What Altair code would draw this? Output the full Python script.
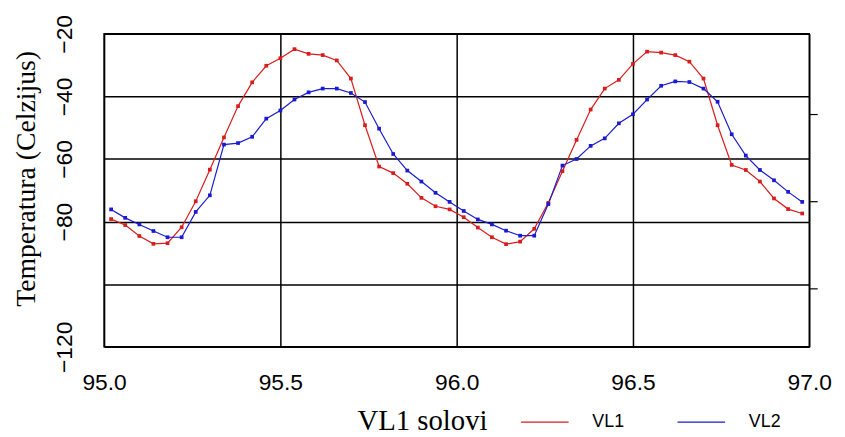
import altair as alt
import pandas as pd

x_vals = [95.02, 95.06, 95.10, 95.14, 95.18, 95.22, 95.26, 95.30, 95.34, 95.38,
          95.42, 95.46, 95.50, 95.54, 95.58, 95.62, 95.66, 95.70, 95.74, 95.78,
          95.82, 95.86, 95.90, 95.94, 95.98, 96.02, 96.06, 96.10, 96.14, 96.18,
          96.22, 96.26, 96.30, 96.34, 96.38, 96.42, 96.46, 96.50, 96.54, 96.58,
          96.62, 96.66, 96.70, 96.74, 96.78, 96.82, 96.86, 96.90, 96.94, 96.98]

vl1 = [-79.2, -81.1, -84.6, -87.1, -86.9, -81.8, -73.5, -63.4, -53.1, -43.1,
       -35.5, -30.2, -27.8, -24.9, -26.4, -26.8, -28.5, -34.3, -49.2, -62.4,
       -64.5, -67.9, -72.4, -75.1, -76.1, -78.6, -81.9, -85.0, -87.2, -86.4,
       -82.3, -74.0, -63.9, -53.9, -44.2, -37.5, -34.7, -29.6, -25.7, -26.0,
       -26.8, -28.9, -34.3, -49.2, -61.9, -63.5, -67.2, -72.6, -76.0, -77.4]

vl2 = [-76.1, -78.8, -80.9, -83.0, -85.0, -85.0, -76.9, -71.6, -55.4, -54.9,
       -52.9, -47.1, -44.5, -41.0, -38.7, -37.5, -37.5, -38.9, -41.8, -50.3,
       -58.4, -63.7, -67.2, -70.8, -73.7, -76.6, -79.3, -80.9, -82.9, -84.5,
       -84.5, -74.4, -62.1, -60.0, -55.8, -53.4, -48.6, -45.7, -41.0, -36.6,
       -35.2, -35.4, -37.5, -41.7, -52.1, -58.9, -63.5, -66.8, -70.5, -73.7]

series = ["VL1", "VL2"]
colors = ["#d81c1c", "#1a1ad0"]
y_ticks = [-120, -100, -80, -60, -40, -20]
x_ticks = [95.0, 95.5, 96.0, 96.5, 97.0]
right_ticks = [-45.6, -73.6, -101.2]

df = pd.DataFrame({
    "x": x_vals * 2,
    "temp": vl1 + vl2,
    "serija": ["VL1"] * len(vl1) + ["VL2"] * len(vl2),
})

xenc = alt.X("x:Q", scale=alt.Scale(domain=[95, 97], nice=False, zero=False),
             axis=alt.Axis(values=x_ticks, format=".1f", title="VL1 solovi", grid=True,
                           gridColor="black", gridWidth=1.5, gridOpacity=1,
                           ticks=False, domain=False, labelPadding=25,
                           labelFont="Liberation Sans", labelFontSize=23,
                           labelColor="black", labelFlush=False,
                           titleFont="Liberation Serif", titleFontSize=29,
                           titleFontWeight="normal", titleColor="black",
                           titleX=321, titleY=74, titleAlign="center",
                           titleBaseline="middle"))
yenc = alt.Y("temp:Q", scale=alt.Scale(domain=[-120, -20], nice=False, zero=False),
             axis=alt.Axis(values=y_ticks, title="Temperatura (Celzijus)",
                           labelExpr="datum.value == -100 ? '' : datum.label",
                           grid=True, gridColor="black", gridWidth=1.5, gridOpacity=1,
                           ticks=False, tickSize=0, domain=False,
                           labelAngle=-90, labelAlign="center", labelBaseline="bottom",
                           labelPadding=28, labelFont="Liberation Sans", labelFontSize=23,
                           labelColor="black", labelFlush=False,
                           titleFont="Liberation Serif", titleFontSize=28,
                           titleFontWeight="normal", titleColor="black",
                           titleX=-78, titleY=146, titleAngle=-90,
                           titleAlign="center", titleBaseline="middle"))
cenc = alt.Color("serija:N", scale=alt.Scale(domain=series, range=colors),
                 legend=alt.Legend(title=None, orient="none",
                                   legendX=420, legendY=367,
                                   direction="horizontal",
                                   symbolType="stroke", symbolSize=2304,
                                   symbolStrokeWidth=1.2, labelOffset=23,
                                   columnPadding=50, labelFont="Liberation Sans",
                                   labelFontSize=18, labelColor="black"))

lines = alt.Chart(df).mark_line(strokeWidth=1.2).encode(x=xenc, y=yenc, color=cenc)
pts = alt.Chart(df).mark_square(size=14, opacity=1).encode(
    x=xenc, y=yenc, color=alt.Color("serija:N", scale=alt.Scale(domain=series, range=colors), legend=None))

right = alt.Chart(df).mark_point(opacity=0).encode(
    x=xenc,
    y=alt.Y("temp:Q", scale=alt.Scale(domain=[-120, -20], nice=False, zero=False),
            axis=alt.Axis(orient="right", values=right_ticks, labels=False, grid=False,
                          domain=False, ticks=True, tickSize=8, tickWidth=1.2,
                          tickColor="black", title=None)))

chart = alt.layer(alt.layer(lines, pts), right).resolve_scale(y="independent").properties(
    width=712, height=316,
    autosize=alt.AutoSizeParams(type="none"),
    padding={"left": 97, "top": 24, "right": 28, "bottom": 89},
    background="white",
).configure_view(stroke="black", strokeWidth=1.5)

chart.save("out.html", embed_options={"renderer": "svg", "actions": False})
